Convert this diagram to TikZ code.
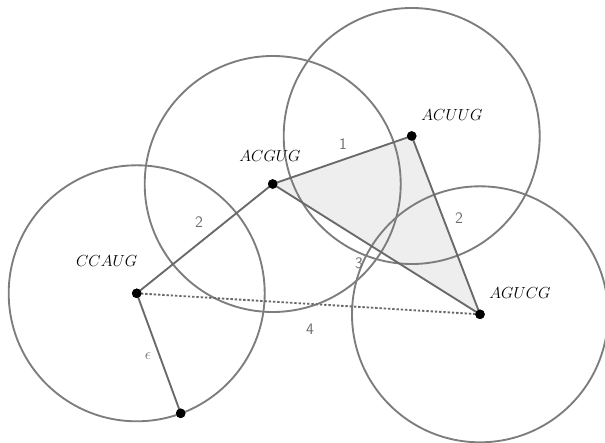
\documentclass[tikz,border=0pt]{standalone}
\usepackage{amsmath,amssymb}
\usetikzlibrary{positioning,calc}

\definecolor{ringgray}{RGB}{125,125,125}
\definecolor{edgegray}{RGB}{105,105,105}
\definecolor{fillgray}{RGB}{238,238,238}
\definecolor{numgray}{RGB}{110,110,110}

\begin{document}
\begin{tikzpicture}[x=0.75pt,y=-0.75pt,
    dot/.style={circle,fill=black,inner sep=0pt,minimum size=7pt},
    ring/.style={draw=ringgray,line width=1.4pt},
    edge/.style={draw=edgegray,line width=1.4pt},
    word/.style={font=\large},
    num/.style={text=numgray,font=\sffamily\large}]
    \useasboundingbox (0,0) rectangle (605,442);

    % Points
    \node[dot] (cc) at (136.7,293.3) {};
    \node[dot] (ag) at (272.7,184) {};
    \node[dot] (au) at (411.7,136) {};
    \node[dot] (gc) at (480,314.3) {};
    \node[dot] (eps) at (180.7,413.3) {};

    % Shaded triangle
    \fill[fillgray] (ag.center) -- (au.center) -- (gc.center) -- cycle;

    % Balls
    \draw[ring] (cc) circle[radius=96pt];
    \draw[ring] (ag) circle[radius=96pt];
    \draw[ring] (au) circle[radius=96pt];
    \draw[ring] (gc) circle[radius=96pt];

    % Edges
    \draw[edge] (cc.center) -- (ag.center);
    \draw[edge] (ag.center) -- (au.center);
    \draw[edge] (au.center) -- (gc.center);
    \draw[edge] (ag.center) -- (gc.center);
    \draw[edge] (cc.center) -- (eps.center);
    \draw[edge,dash pattern=on 1.8pt off 1.4pt] (cc.center) -- (gc.center);

    % Redraw dots on top
    \foreach \p in {cc,ag,au,gc,eps}
        \fill (\p) circle[radius=3.6pt];

    % Labels
    \node[word] (lcc) at (106.7,261) {$CCAUG$};
    \node[word] (lag) at (270,156) {$ACGUG$};
    \node[word] (lau) at (452,115) {$ACUUG$};
    \node[word] (lgc) at (520,293) {$AGUCG$};

    % Distances
    \node[num] (d1) at (343,144) {1};
    \node[num] (d2) at (459,218) {2};
    \node[num] (d3) at (359,263) {3};
    \node[num] (d4) at (310,329) {4};
    \node[num] (d5) at (199,222) {2};
    \node[text=numgray,font=\large] (de) at (148,356) {$\epsilon$};
\end{tikzpicture}
\end{document}
